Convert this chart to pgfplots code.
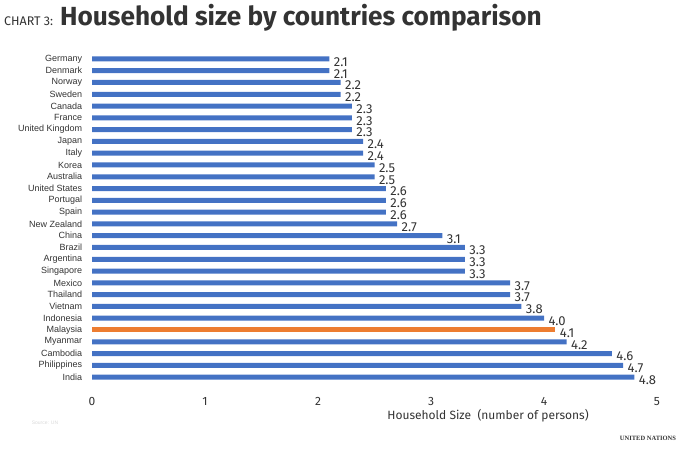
\documentclass[border=0pt]{standalone}
\usepackage{pgfplots}
\pgfplotsset{compat=1.18}
\usepackage{fontspec}
\setmainfont{Fira Sans}
\newfontfamily\arialf{Liberation Sans}
\newfontfamily\serff{Liberation Serif}
\definecolor{barblue}{HTML}{4472C4}
\definecolor{barorange}{HTML}{ED7D31}
\definecolor{txt}{HTML}{333333}
\begin{document}
\begin{tikzpicture}
\begin{axis}[
  at={(92pt,-383pt)}, anchor=south west,
  scale only axis, width=565pt, height=330pt,
  xmin=0, xmax=5, ymin=-0.5, ymax=27.5,
  y dir=reverse,
  xbar, bar width=5pt,
  axis line style={draw=none},
  tick style={draw=none},
  xtick={0,1,2,3,4,5},
  ytick={0,...,27},
  yticklabels={Germany,Denmark,Norway,Sweden,Canada,France,United Kingdom,Japan,Italy,Korea,Australia,United States,Portugal,Spain,New Zealand,China,Brazil,Argentina,Singapore,Mexico,Thailand,Vietnam,Indonesia,Malaysia,Myanmar,Cambodia,Philippines,India},
  yticklabel style={font=\arialf\fontsize{9}{10}\selectfont, text=txt, xshift=-2pt},
  xticklabel style={font=\fontsize{12}{13}\selectfont, text=txt, yshift=-11pt},
  /pgf/number format/assume math mode=true,
  nodes near coords,
  nodes near coords style={font=\fontsize{13}{14}\selectfont, text=txt, anchor=west, xshift=1pt, yshift=-3pt,
    /pgf/number format/.cd, fixed, fixed zerofill, precision=1},
  clip=false,
]
\addplot[fill=barblue, draw=none, bar shift=0pt] coordinates {
(2.1,0) (2.1,1) (2.2,2) (2.2,3) (2.3,4) (2.3,5) (2.3,6) (2.4,7) (2.4,8) (2.5,9)
(2.5,10) (2.6,11) (2.6,12) (2.6,13) (2.7,14) (3.1,15) (3.3,16) (3.3,17) (3.3,18)
(3.7,19) (3.7,20) (3.8,21) (4.0,22) (4.2,24) (4.6,25) (4.7,26) (4.8,27)
};
\addplot[fill=barorange, draw=none, bar shift=0pt] coordinates {(4.1,23)};
\end{axis}
\node[anchor=base west, inner sep=0pt, text=txt] at (4pt,-25pt) {\fontsize{12.5}{14}\selectfont CHART 3:};
\node[anchor=base west, inner sep=0pt, text=txt] at (60pt,-25pt) {\fontsize{26.2}{30}\selectfont\bfseries Household size by countries comparison};
\node[text=txt, inner sep=0pt] at (488pt,-416pt) {\fontsize{12}{13}\selectfont Household Size\ \ (number of persons)};
\node[text=black!15, inner sep=0pt] at (45pt,-423pt) {\arialf\fontsize{5}{6}\selectfont Source: UN};
\node[text=txt, inner sep=0pt] at (648pt,-438pt) {\serff\bfseries\fontsize{6.5}{7}\selectfont UNITED NATIONS};
\pgfresetboundingbox
\path[use as bounding box] (0,0) rectangle (690pt,-450pt);
\end{tikzpicture}
\end{document}
